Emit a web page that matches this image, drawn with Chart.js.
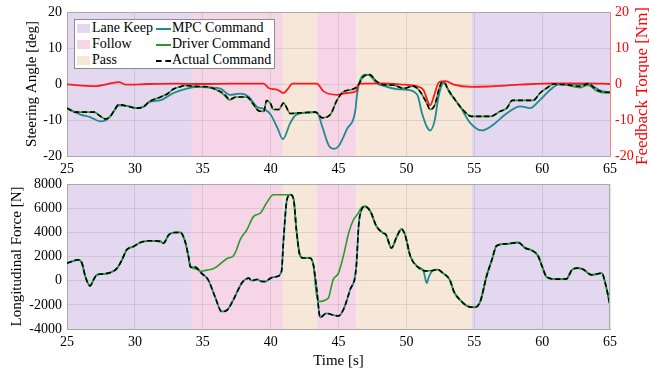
<!DOCTYPE html>
<html>
<head>
<meta charset="utf-8">
<script src="https://cdn.jsdelivr.net/npm/chart.js@4.4.1/dist/chart.umd.min.js"></script>
<style>
  body { margin: 0; background: #fff; width: 649px; height: 374px; position: relative; overflow: hidden; font-family: "Liberation Serif", serif; }
  #topChart { position: absolute; left: 0; top: 0; }
  #bottomChart { position: absolute; left: 0; top: 165px; }
  .legend { position: absolute; left: 74px; top: 19px; width: 201px; height: 50px; background: #fff; border: 1px solid #8c8c8c; box-sizing: border-box; font-size: 14px; color: #000; }
  .legend .sw { position: absolute; left: 2px; width: 13px; height: 9px; }
  .legend .ln { position: absolute; left: 81px; width: 15px; height: 0; }
  .legend .tx { position: absolute; line-height: 16px; white-space: nowrap; }
  .rtitle { position: absolute; left: 542px; top: 76px; width: 200px; height: 20px; line-height: 20px; text-align: center; color: #ff0000; font-size: 17px; transform: rotate(-90deg); white-space: nowrap; }
</style>
</head>
<body>
<canvas id="topChart" width="649" height="180"></canvas>
<canvas id="bottomChart" width="649" height="209"></canvas>

<div class="legend">
  <div class="sw" style="top:4px;background:#e3d8ef"></div><div class="tx" style="left:17px;top:0px">Lane Keep</div>
  <div class="sw" style="top:20px;background:#f6d6e6"></div><div class="tx" style="left:17px;top:16px">Follow</div>
  <div class="sw" style="top:36px;background:#f6e7d8"></div><div class="tx" style="left:17px;top:32px">Pass</div>
  <div class="ln" style="top:8px;border-top:2px solid #1f8a8f"></div><div class="tx" style="left:97px;top:0px">MPC Command</div>
  <div class="ln" style="top:24px;border-top:2px solid #2a9a2a"></div><div class="tx" style="left:97px;top:16px">Driver Command</div>
  <div class="ln" style="top:40px;border-top:2px dashed #000"></div><div class="tx" style="left:97px;top:32px">Actual Command</div>
</div>
<div class="rtitle">Feedback Torque [Nm]</div>

<script>
// --- Режими (фон) ---
const modeStart = [25, 34.2, 40.9, 43.4, 46.3, 54.8];
const modeEnd = [34.2, 40.9, 43.4, 46.3, 54.8, 65];
const modeName = ["Lane Keep", "Follow", "Pass", "Follow", "Pass", "Lane Keep"];
const modeColors = { "Lane Keep": "#e3d8ef", "Follow": "#f6d6e6", "Pass": "#f6e7d8" };

// --- Кут керма [deg], пари [час, значення] ---
const mpcSteer = [
  [25,-6.7],[26.0,-8.5],[26.7,-9.2],[27.45,-10.4],[27.95,-9.9],[28.55,-7.1],[28.8,-5.9],[29.4,-6.1],[30.15,-6.7],[30.6,-6.4],
  [31.1,-5.0],[31.9,-4.5],[32.85,-2.5],[33.7,-1.4],[34.6,-0.8],[35.55,-1.0],[36.3,-1.3],[37.0,-3.0],[37.75,-2.7],[38.4,-3.6],
  [39.0,-6.4],[39.5,-6.9],[40.0,-8.5],[40.5,-12.2],[40.9,-15.3],[41.45,-10.8],[41.9,-8.5],[42.7,-8.0],[43.3,-7.8],[43.45,-8.0],
  [43.8,-11.8],[44.3,-17.2],[44.65,-18.0],[45.0,-17.3],[45.6,-12.7],[46.25,-7.1],[46.35,-3.4],[46.6,1.2],[47.0,2.6],[47.3,2.4],[47.8,0.3],
  [48.55,-0.8],[49.3,-1.4],[50.0,-1.6],[50.8,-3.0],[51.15,-8.1],[51.5,-11.8],[51.75,-12.9],[52.1,-9.9],[52.35,-3.9],[52.75,0.3],
  [53.2,-2.5],[53.95,-6.2],[54.7,-10.8],[55.55,-12.9],[56.4,-11.3],[57.4,-8.1],[58.4,-6.2],[59.1,-6.7],[59.85,-4.4],[60.6,-1.6],
  [61.2,-0.2],[62.8,-0.2],[63.4,-0.2],[64.3,-1.8],[65,-2.3]
];
const driverSteer = [
  [25,-6.7],[25.6,-7.8],[26.1,-7.8],[27.0,-7.8],[27.4,-8.8],[27.8,-9.7],[28.2,-9.0],[28.5,-7.2],[28.8,-5.75],[29.4,-6.1],
  [30.15,-6.7],[30.6,-6.4],[31.1,-4.8],[31.9,-3.6],[32.4,-2.7],[32.85,-1.4],[33.3,-0.8],[33.7,-0.4],[34.2,-0.6],[34.8,-0.7],
  [35.4,-0.8],[36.0,-1.6],[36.5,-2.8],[37.0,-4.4],[37.5,-3.6],[38.25,-3.6],[38.7,-5.5],[39.1,-7.4],[39.5,-7.6],[39.7,-4.6],
  [40.0,-5.5],[40.2,-7.1],[40.6,-7.1],[40.95,-5.3],[41.45,-8.2],[42.2,-8.0],[43.3,-7.8],[43.8,-9.4],[44.4,-8.5],[44.9,-4.4],
  [45.4,-2.05],[45.9,-1.6],[46.35,-0.8],[46.85,2.1],[47.3,2.6],[47.8,0.7],[48.3,-0.2],[49.05,-0.3],[49.8,-1.2],[50.5,-0.6],
  [51.0,-2.05],[51.5,-5.3],[51.75,-7.1],[52.1,-5.75],[52.4,-1.5],[52.6,0.4],[52.85,0.2],[53.0,-1.0],[53.5,-3.9],[54.1,-6.9],
  [54.8,-9.0],[56.2,-9.0],[56.9,-7.6],[57.4,-6.7],[57.8,-4.55],[59.35,-4.55],[59.85,-2.5],[60.35,-1.1],[60.85,0],[61.8,-0.3],
  [62.8,-1.0],[63.4,-0.3],[64.0,-1.9],[64.7,-2.5],[65,-2.5]
];
const actualSteer = [
  [25,-6.7],[25.6,-7.8],[26.1,-7.8],[27.0,-7.8],[27.4,-8.8],[27.8,-9.7],[28.2,-9.0],[28.5,-7.2],[28.8,-5.75],[29.4,-6.1],
  [30.15,-6.7],[30.6,-6.4],[31.1,-4.8],[31.9,-3.6],[32.4,-2.7],[32.85,-1.4],[33.3,-0.8],[33.7,-0.4],[34.2,-0.6],[34.8,-0.7],
  [35.4,-0.8],[36.0,-1.6],[36.5,-2.5],[37.0,-4.2],[37.5,-3.6],[38.25,-3.6],[38.7,-5.5],[39.1,-7.4],[39.5,-7.6],[39.7,-4.6],
  [40.0,-5.5],[40.2,-7.1],[40.6,-7.1],[40.95,-5.3],[41.45,-8.2],[42.2,-8.0],[43.3,-7.8],[43.8,-9.4],[44.4,-8.5],[44.9,-4.4],
  [45.4,-2.05],[45.9,-1.6],[46.35,-0.8],[46.85,2.1],[47.3,2.6],[47.8,0.7],[48.3,-0.2],[49.05,-0.3],[49.8,-1.2],[50.5,-0.6],
  [51.0,-2.05],[51.5,-5.3],[51.75,-7.1],[52.1,-5.75],[52.4,-1.5],[52.6,0.4],[52.85,0.2],[53.0,-1.0],[53.5,-3.9],[54.1,-6.9],
  [54.8,-9.0],[56.2,-9.0],[56.9,-7.6],[57.4,-6.7],[57.8,-4.55],[59.35,-4.55],[59.85,-2.5],[60.35,-1.1],[60.85,0],[61.8,-0.2],
  [62.8,-0.65],[63.4,0.1],[64.0,-1.6],[64.7,-2.3],[65,-2.3]
];

// --- Момент зворотного зв'язку [Nm] ---
const torque = [
  [25,-0.1],[27,-0.6],[28.4,0.3],[28.8,0.5],[29.4,-0.2],[31,0],[33,0.1],[35,0],[37,0.1],[39.5,0.1],
  [39.85,-1.1],[40.5,-1.6],[40.95,-2.5],[41.3,-1.2],[41.6,0.1],[43.4,0.1],[43.9,-2.05],[44.9,-3.0],[45.6,-2.5],[46.3,-2.0],
  [46.5,0.1],[48.3,0.2],[49.8,-0.2],[50.75,-0.6],[51.25,-1.6],[51.75,-5.9],[52.1,-2.5],[52.4,0.5],[52.9,0.8],[53.5,-0.2],
  [54.8,-0.8],[56.0,-0.7],[58.3,-0.2],[60.9,0.2],[63.4,0.2],[65,0]
];

// --- Поздовжня сила [N] ---
const mpcForce = [
  [25,1450],[25.85,1725],[26.1,1450],[26.35,340],[26.7,-431],[26.95,66],[27.2,481],[27.7,564],[28.2,672],[28.7,1037],
  [29.05,1725],[29.4,2554],[29.9,2828],[30.4,3160],[31.1,3300],[31.9,3243],[32.1,3100],[32.5,3800],[33.0,3990],[33.35,3990],
  [33.7,3243],[33.95,2000],[34.1,1120],[34.45,1120],[34.9,620],[35.4,66],[35.9,-1320],[36.4,-2560],[36.8,-2430],[37.25,-1590],
  [37.9,-160],[38.4,207],[38.6,0],[39.0,100],[39.3,-50],[39.6,-75],[40.0,207],[40.45,340],[40.8,755],[40.95,3380],
  [41.2,6700],[41.45,7115],[41.7,6700],[41.9,4210],[42.15,2140],[42.4,1870],[42.9,1870],[43.15,1310],[43.4,-760],[43.65,-3050],
  [44.1,-2700],[44.6,-2840],[45.0,-2920],[45.35,-2420],[45.85,-760],[46.3,1037],[46.5,4770],[46.7,5870],[46.95,6150],[47.35,5730],
  [47.8,4490],[48.3,3940],[48.5,3800],[48.9,2700],[49.3,3660],[49.65,4270],[49.9,3800],[50.3,2000],[50.8,1170],[51.25,840],
  [51.5,-200],[51.65,300],[51.95,840],[52.3,920],[52.7,620],[53.2,66],[53.5,-900],[53.95,-1590],[54.6,-2150],[55.05,-2200],
  [55.45,-1700],[55.9,340],[56.3,1725],[56.65,2890],[57.4,3050],[58.25,3160],[58.75,2700],[59.25,2500],[59.7,2060],[60.0,1170],
  [60.35,290],[61.1,125],[61.8,150],[62.2,900],[62.6,1040],[63.0,950],[63.65,480],[64.4,620],[64.65,-200],[65,-2000]
];
const driverForce = [
  [25,1450],[25.85,1725],[26.1,1450],[26.35,340],[26.7,-431],[26.95,66],[27.2,481],[27.7,564],[28.2,672],[28.7,1037],
  [29.05,1725],[29.4,2554],[29.9,2828],[30.4,3160],[31.1,3300],[31.9,3243],[32.1,3100],[32.5,3800],[33.0,3990],[33.35,3990],
  [33.7,3243],[33.95,2000],[34.1,1120],[34.4,1000],[34.9,780],[35.3,870],[35.8,1000],[36.3,1400],[36.8,1830],[37.25,2050],
  [37.5,2600],[37.75,3380],[38.25,4210],[38.75,5320],[39.25,5600],[39.7,6430],[40.2,7115],[41.55,7115],[41.7,6700],[41.9,4210],
  [42.15,2140],[42.4,1870],[42.9,1870],[43.15,1310],[43.35,-900],[43.5,-1730],[44.25,-1450],[44.45,-600],[44.6,66],[45.0,620],
  [45.35,2000],[45.75,3940],[46.1,5040],[46.4,5500],[46.7,6050],[46.95,6150],[47.35,5730],
  [47.8,4490],[48.3,3940],[48.5,3800],[48.9,2700],[49.3,3660],[49.65,4270],[49.9,3800],[50.3,2000],[50.8,1170],[51.25,840],
  [51.5,800],[51.95,840],[52.3,920],[52.7,620],[53.2,66],[53.5,-900],[53.95,-1590],[54.6,-2150],[55.05,-2200],
  [55.45,-1700],[55.9,340],[56.3,1725],[56.65,2890],[57.4,3050],[58.25,3160],[58.75,2700],[59.25,2500],[59.7,2060],[60.0,1170],
  [60.35,290],[61.1,125],[61.8,150],[62.2,900],[62.6,1040],[63.0,950],[63.65,480],[64.4,620],[64.65,-200],[65,-2000]
];
const actualForce = [
  [25,1450],[25.85,1725],[26.1,1450],[26.35,340],[26.7,-431],[26.95,66],[27.2,481],[27.7,564],[28.2,672],[28.7,1037],
  [29.05,1725],[29.4,2554],[29.9,2828],[30.4,3160],[31.1,3300],[31.9,3243],[32.1,3100],[32.5,3800],[33.0,3990],[33.35,3990],
  [33.7,3243],[33.95,2000],[34.1,1120],[34.45,1120],[34.9,620],[35.4,66],[35.9,-1320],[36.4,-2560],[36.8,-2430],[37.25,-1590],
  [37.9,-160],[38.4,207],[38.6,0],[39.0,100],[39.3,-50],[39.6,-75],[40.0,207],[40.45,340],[40.8,755],[40.95,3380],
  [41.2,6700],[41.45,7115],[41.7,6700],[41.9,4210],[42.15,2140],[42.4,1870],[42.9,1870],[43.15,1310],[43.4,-760],[43.65,-3050],
  [44.1,-2700],[44.6,-2840],[45.0,-2920],[45.35,-2420],[45.85,-760],[46.3,1037],[46.5,4770],[46.7,5870],[46.95,6150],[47.35,5730],
  [47.8,4490],[48.3,3940],[48.5,3800],[48.9,2700],[49.3,3660],[49.65,4270],[49.9,3800],[50.3,2000],[50.8,1170],[51.25,840],
  [51.5,800],[51.95,840],[52.3,920],[52.7,620],[53.2,66],[53.5,-900],[53.95,-1590],[54.6,-2150],[55.05,-2200],
  [55.45,-1700],[55.9,340],[56.3,1725],[56.65,2890],[57.4,3050],[58.25,3160],[58.75,2700],[59.25,2500],[59.7,2060],[60.0,1170],
  [60.35,290],[61.1,125],[61.8,150],[62.2,900],[62.6,1040],[63.0,950],[63.65,480],[64.4,620],[64.65,-200],[65,-2000]
];

// --- Осі ---
const timeTicks = [25, 30, 35, 40, 45, 50, 55, 60, 65];
const steerTicks = [-20, -10, 0, 10, 20];
const forceTicks = [-4000, -2000, 0, 2000, 4000, 6000, 8000];

const FONT = "Liberation Serif";
const GRID = "rgba(60,60,60,0.13)";
const BOX = "#a9a9a9";

function pts(arr) {
  return arr.map(([t, v]) => ({ x: t, y: v }));
}

function line(label, arr, color, opts) {
  return Object.assign({
    label: label,
    data: pts(arr),
    borderColor: color,
    borderWidth: 1.6,
    pointRadius: 0,
    fill: false,
    cubicInterpolationMode: "monotone",
  }, opts || {});
}

// фон режимів + рамка
const shadePlugin = {
  id: "shade",
  beforeDraw(chart) {
    const { ctx, chartArea: a, scales } = chart;
    const x = scales.x;
    ctx.save();
    modeStart.forEach((s, i) => {
      const x0 = x.getPixelForValue(s);
      const x1 = x.getPixelForValue(modeEnd[i]);
      ctx.fillStyle = modeColors[modeName[i]];
      ctx.fillRect(x0, a.top, x1 - x0, a.bottom - a.top);
    });
    ctx.restore();
  },
  afterDraw(chart) {
    const { ctx, chartArea: a } = chart;
    ctx.save();
    ctx.strokeStyle = BOX;
    ctx.lineWidth = 1;
    ctx.beginPath();
    ctx.moveTo(a.left, a.top + 0.5);
    ctx.lineTo(a.right, a.top + 0.5);
    if (!chart.scales.y1) {
      ctx.moveTo(a.right - 0.5, a.top);
      ctx.lineTo(a.right - 0.5, a.bottom);
    }
    ctx.stroke();
    ctx.restore();
  },
};

function xAxis(height, withTitle) {
  return {
    type: "linear",
    min: 25, max: 65,
    afterBuildTicks: (s) => { s.ticks = timeTicks.map((v) => ({ value: v })); },
    afterFit: (s) => { s.height = height; s.paddingLeft = 0; s.paddingRight = 0; },
    grid: { color: GRID, drawTicks: false },
    border: { display: true, color: BOX },
    ticks: { padding: 5, color: "#000", font: { family: FONT, size: 14 }, callback: (v) => String(v) },
    title: { display: withTitle, text: "Time [s]", color: "#000", font: { family: FONT, size: 15 }, padding: { top: 0, bottom: 4 } },
  };
}

function yAxis(width, min, max, tickList, title, extra) {
  return Object.assign({
    type: "linear",
    min: min, max: max,
    afterBuildTicks: (s) => { s.ticks = tickList.map((v) => ({ value: v })); },
    afterFit: (s) => { s.width = width; s.paddingTop = 0; s.paddingBottom = 0; },
    grid: { color: GRID, drawTicks: false },
    border: { display: true, color: BOX },
    ticks: { padding: 5, color: "#000", font: { family: FONT, size: 14 }, callback: (v) => String(v) },
    title: { display: !!title, text: title, color: "#000", font: { family: FONT, size: 15 }, padding: { top: 0, bottom: 0 } },
  }, extra || {});
}

// --- Верхній графік ---
new Chart(document.getElementById("topChart").getContext("2d"), {
  type: "line",
  data: {
    datasets: [
      line("Actual Command", actualSteer, "#000", { borderDash: [5, 3], borderWidth: 1.6 }),
      line("Feedback Torque", torque, "#ff1a1a", { yAxisID: "y1", borderWidth: 1.8 }),
      line("Driver Command", driverSteer, "#2a9a2a"),
      line("MPC Command", mpcSteer, "#1f8a8f", { borderWidth: 1.8 }),
    ],
  },
  options: {
    responsive: false,
    animation: false,
    devicePixelRatio: 1,
    layout: { padding: { left: 23, top: 12, right: 0, bottom: 0 } },
    plugins: { legend: { display: false }, tooltip: { enabled: false } },
    scales: {
      x: xAxis(24, false),
      y: yAxis(44, -20, 20, steerTicks, "Steering Angle [deg]", { position: "left" }),
      y1: yAxis(39, -20, 20, steerTicks, "", {
        position: "right",
        grid: { drawOnChartArea: false, drawTicks: false },
        border: { display: true, color: "#ff8080" },
        ticks: { padding: 5, color: "#ff0000", font: { family: FONT, size: 14 }, callback: (v) => String(v) },
      }),
    },
  },
  plugins: [shadePlugin],
});

// --- Нижній графік ---
new Chart(document.getElementById("bottomChart").getContext("2d"), {
  type: "line",
  data: {
    datasets: [
      line("Actual Command", actualForce, "#000", { borderDash: [5, 3], borderWidth: 1.6 }),
      line("Driver Command", driverForce, "#2a9a2a"),
      line("MPC Command", mpcForce, "#1f8a8f", { borderWidth: 1.8 }),
    ],
  },
  options: {
    responsive: false,
    animation: false,
    devicePixelRatio: 1,
    layout: { padding: { left: 8, top: 19, right: 39, bottom: 0 } },
    plugins: { legend: { display: false }, tooltip: { enabled: false } },
    scales: {
      x: xAxis(45, true),
      y: yAxis(59, -4000, 8000, forceTicks, "Longitudinal Force [N]", { position: "left" }),
    },
  },
  plugins: [shadePlugin],
});
</script>
</body>
</html>
